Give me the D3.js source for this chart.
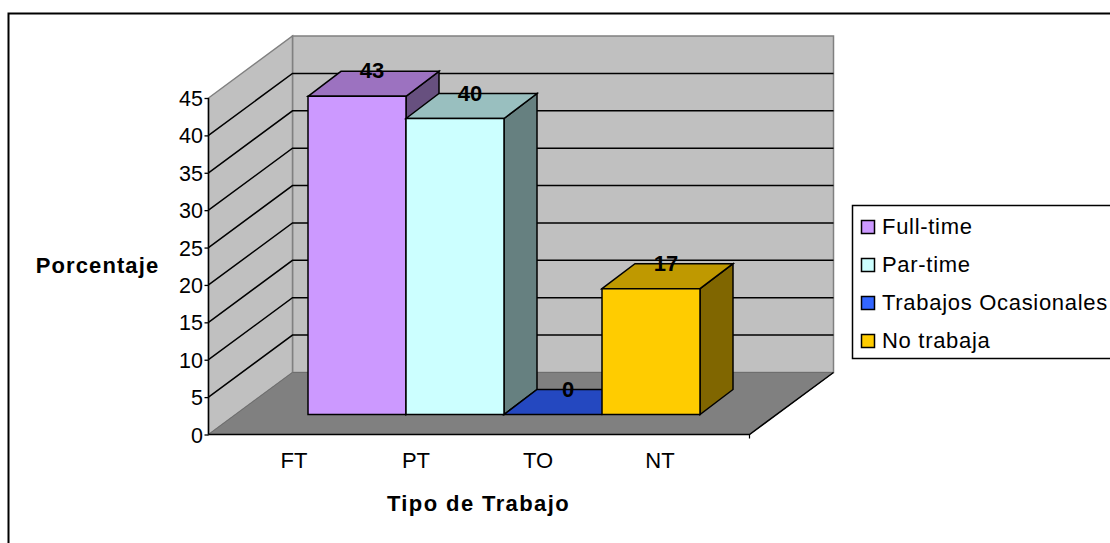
<!DOCTYPE html>
<html><head><meta charset="utf-8">
<script src="https://cdnjs.cloudflare.com/ajax/libs/d3/7.8.5/d3.min.js"></script>
<style>html,body{margin:0;padding:0;background:#fff;overflow:hidden}svg{display:block}text{font-family:"Liberation Sans",Arial,sans-serif;fill:#000}</style>
</head><body><svg id="c" width="1110" height="543"></svg>
<script>
const categories = ["FT","PT","TO","NT"];
const seriesNames = ["Full-time","Par-time","Trabajos Ocasionales","No trabaja"];
const values = [43,40,0,17];
const ticks = [0,5,10,15,20,25,30,35,40,45];
const frontColors = ["#CC99FF","#CCFFFF","#2448C0","#FFCC00"];
const topColors = ["#9C72C0","#99BFBF","#2448C0","#BF9900"];
const sideColors = ["#67507F","#668080","#1C3690","#806600"];
const legendColors = ["#CC99FF","#CCFFFF","#3366FF","#FFCC00"];

const svg = d3.select("#c");
const W = 1110, H = 543;
const dx = 84, dy = 62;
const y = d3.scaleLinear().domain([0,45]).range([434.5,98]);
const yBar = d3.scaleLinear().domain([0,45]).range([414.5,81.5]);
const xBar = d3.scaleBand().domain(categories).range([308,700]);
const xLab = d3.scalePoint().domain(categories).range([294,660]);
const line = d3.line();
const poly = (pts,fill,stroke,sw)=>svg.append("path").attr("d",line(pts)+"Z").attr("fill",fill).attr("stroke",stroke).attr("stroke-width",sw).attr("stroke-linejoin","miter");

// frame
svg.append("path").attr("d",`M8.5,${H+2}V13.5H${W+2}`).attr("fill","none").attr("stroke","#000").attr("stroke-width",2);

const x0=208.5, x1=749.5, y0=y(0), yT=y(45);
// back wall, side wall, floor
poly([[x0+dx,yT-dy],[x1+dx,yT-dy],[x1+dx,y0-dy],[x0+dx,y0-dy]],"#C0C0C0","#808080",1.5);
poly([[x0,yT],[x0+dx,yT-dy],[x0+dx,y0-dy],[x0,y0]],"#C0C0C0","#808080",1.5);
poly([[x0,y0],[x0+dx,y0-dy],[x1+dx,y0-dy],[x1,y0]],"#808080","#6e6e6e",1);

// gridlines
ticks.filter(t=>t>0&&t<45).forEach(t=>{
  svg.append("path").attr("d",line([[x0,y(t)],[x0+dx,y(t)-dy],[x1+dx,y(t)-dy]])).attr("fill","none").attr("stroke","#000").attr("stroke-width",1.5);
});
// floor front/right edges
svg.append("path").attr("d",line([[x0,y0],[x1,y0],[x1+dx,y0-dy]])).attr("fill","none").attr("stroke","#000").attr("stroke-width",1.5);
svg.append("path").attr("d",line([[x1,y0],[x1,y0+4]])).attr("stroke","#000").attr("stroke-width",1.2);

// axis
const axisG = svg.append("g").attr("transform",`translate(${x0},0)`).call(d3.axisLeft(y).tickValues(ticks).tickSize(4).tickPadding(1.5));
axisG.select(".domain").attr("stroke","#000").attr("stroke-width",1.5).attr("d",`M0,${yT}V${y0}`);
axisG.selectAll(".tick line").attr("stroke","#000").attr("stroke-width",1.3);
axisG.selectAll("text").style("font-family",'"Liberation Sans"').style("font-size","21.5px").attr("fill","#000").attr("dy","0.35em");

// bars
const bd = 33, bh = 25;
categories.forEach((c,i)=>{
  const l=xBar(c), r=l+xBar.bandwidth(), b=yBar(0), t=yBar(values[i]);
  poly([[r,t],[r+bd,t-bh],[r+bd,b-bh],[r,b]],sideColors[i],"#000",1.5);
  poly([[l,t],[l+bd,t-bh],[r+bd,t-bh],[r,t]],topColors[i],"#000",1.5);
  if(values[i]>0) poly([[l,t],[r,t],[r,b],[l,b]],frontColors[i],"#000",1.5);
});
categories.forEach((c,i)=>{
  const l=xBar(c), t=yBar(values[i]);
  svg.append("text").attr("x",l+xBar.bandwidth()/2+15).attr("y",t-bh+7).attr("text-anchor","middle").attr("font-size",22).attr("font-weight","bold").text(values[i]);
});

// category labels
categories.forEach(c=>svg.append("text").attr("x",xLab(c)).attr("y",468).attr("text-anchor","middle").attr("font-size",22).text(c));

// axis titles
svg.append("text").attr("x",97.5).attr("y",273).attr("text-anchor","middle").attr("font-size",22).attr("letter-spacing",1.1).attr("font-weight","bold").text("Porcentaje");
svg.append("text").attr("x",478.5).attr("y",511).attr("text-anchor","middle").attr("font-size",22).attr("letter-spacing",1.4).attr("font-weight","bold").text("Tipo de Trabajo");

// legend
svg.append("rect").attr("x",852.5).attr("y",205.5).attr("width",W).attr("height",153).attr("fill","#fff").attr("stroke","#000").attr("stroke-width",1.5);
const ly = d3.scalePoint().domain(seriesNames).range([227,341]);
seriesNames.forEach((s,i)=>{
  svg.append("rect").attr("x",861.5).attr("y",ly(s)-6.5).attr("width",13).attr("height",13).attr("fill",legendColors[i]).attr("stroke","#000").attr("stroke-width",1.5);
  svg.append("text").attr("x",882).attr("y",ly(s)+7).attr("font-size",22).attr("letter-spacing",0.7).text(s);
});
</script></body></html>
